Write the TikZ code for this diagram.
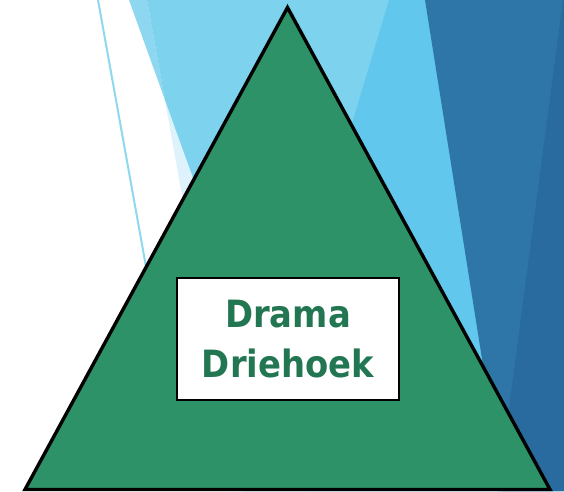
\documentclass[tikz,border=0pt]{standalone}
\usepackage{fontspec}
\newfontfamily\labelfont[FakeStretch=0.9]{DejaVu Sans Bold}
\definecolor{paleblue}{HTML}{DDF2FA}
\definecolor{skystrip}{HTML}{8DD7F1}
\definecolor{skyblue}{HTML}{7DD2EE}
\definecolor{midblue}{HTML}{62C7EC}
\definecolor{deepblue}{HTML}{2E76A7}
\definecolor{deeperblue}{HTML}{2A6B9F}
\definecolor{hairline}{HTML}{8FD8F2}
\definecolor{trianglegreen}{HTML}{2E9269}
\definecolor{labelgreen}{HTML}{227752}
\tikzset{
  facet/.style={draw=none},
  dramatri/.style={draw=black, line width=3.4pt, line join=miter, fill=trianglegreen},
  titlebox/.style={draw=black, line width=1.5pt, fill=white,
    minimum width=222pt, minimum height=122pt, inner sep=0pt,
    align=center, text=labelgreen,
    font=\labelfont\fontsize{37.6pt}{50.6pt}\selectfont}
}
\begin{document}
\begin{tikzpicture}[x=1pt,y=-1pt]
  \useasboundingbox (0,0) rectangle (564,491);
  \fill[white] (0,0) rectangle (564,491);

  % background facets
  \fill[paleblue]  (147,0) -- (564,0) -- (564,491) -- (235,491) -- cycle;
  \fill[skystrip]  (129,0) -- (147,0) -- (165,100) -- cycle;
  \fill[skyblue]   (147,0) -- (564,0) -- (564,491) -- (306,491) -- (165,100) -- cycle;
  \fill[midblue]   (389,0) -- (564,0) -- (564,491) -- (242,491) -- cycle;
  \fill[deepblue]  (425,0) -- (564,0) -- (564,491) -- (503,491) -- cycle;
  \fill[deeperblue] (563,0) -- (564,0) -- (564,491) -- (498,491) -- cycle;
  \draw[hairline, line width=2pt] (98,0) -- (152,300);

  % triangle
  \coordinate (apex) at (287.5,7.5);
  \coordinate (bl) at (25,489.5);
  \coordinate (br) at (550,489.5);
  \draw[dramatri] (apex) -- (br) -- (bl) -- cycle;

  % label
  \node[titlebox] (title) at (288,339) {Drama\\Driehoek};
\end{tikzpicture}
\end{document}
